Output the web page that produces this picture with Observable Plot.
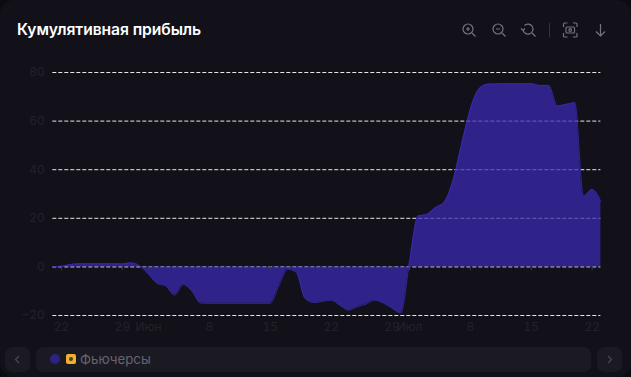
<!DOCTYPE html>
<html><head><meta charset="utf-8">
<script src="https://cdn.jsdelivr.net/npm/d3@7"></script>
<script src="https://cdn.jsdelivr.net/npm/@observablehq/plot@0.6"></script>
<style>
html,body{margin:0;padding:0;background:#0c0b11;width:631px;height:377px;overflow:hidden;font-family:Inter,"Noto Sans",sans-serif}
#card{position:relative;width:631px;height:377px;background:#12111a;border-radius:14px;overflow:hidden}
#title{position:absolute;left:17px;top:20px;color:#fff;font-size:15.7px;font-weight:600;line-height:20px;white-space:nowrap;letter-spacing:-.1px}
#chart{position:absolute;left:0;top:50px}
#tools{position:absolute;left:0;top:0}
.btn,.bar{position:absolute;top:347px;height:25px;background:#1b1a23;border-radius:7px}
.btn svg{position:absolute;left:0;top:0}
#legdot{position:absolute;left:50px;top:354px;width:10px;height:10px;border-radius:50%;background:#2c2285}
#legicon{position:absolute;left:66px;top:354px;width:10px;height:10px;border-radius:2px;background:#f0b02e}
#legicon i{position:absolute;left:3px;top:3px;width:4px;height:4px;border-radius:50%;background:#5a3d10}
#legtext{position:absolute;left:80px;top:350px;color:#66656d;font-size:13.3px;line-height:19px}
</style></head><body>
<div id="card">
<div id="title">Кумулятивная прибыль</div>
<svg id="tools" width="631" height="50" fill="none" stroke="#75747c" stroke-width="1.2">
<circle cx="468" cy="29" r="5"/><path d="M472 33l3.500 3.500M466 29h4M468 27v4"/>
<circle cx="498" cy="29" r="5"/><path d="M502 33l3.500 3.500M496 29h4"/>
<path d="M524.500 25.500a5 5 0 1 1-1.500 4M532 33l3.500 3.500M521 28.500l2 2 2-2"/>
<path d="M549.500 23v14" stroke="#33323a" stroke-width="1"/>
<path d="M563.500 27v-3a1 1 0 0 1 1-1h3M573 23h3a1 1 0 0 1 1 1v3M577 33v3a1 1 0 0 1-1 1h-3M567.500 37h-3a1 1 0 0 1-1-1v-3"/>
<rect x="566" y="27" width="8.500" height="6" rx="1"/><circle cx="570.200" cy="30" r="1.300"/>
<path d="M600.500 24v12M596 31.500l4.500 4.500 4.500-4.500"/>
</svg>
<div id="chart"></div>
<div class="btn" style="left:5px;width:25px"><svg width="25" height="25" fill="none" stroke="#4a4951" stroke-width="1.200"><path d="M14 9l-3.500 3.500 3.500 3.500"/></svg></div>
<div class="bar" style="left:36px;width:555px"></div>
<div class="btn" style="left:597px;width:25px"><svg width="25" height="25" fill="none" stroke="#4a4951" stroke-width="1.200"><path d="M11 9l3.500 3.500-3.500 3.500"/></svg></div>
<div id="legdot"></div><div id="legicon"><i></i></div><div id="legtext">Фьючерсы</div>
</div>
<script>
const seriesName = "Фьючерсы";
const startDate = "2024-05-21";
const values = [
  0.1, 0.3, 1.0, 1.3, 1.3, 1.3, 1.3, 1.3, 1.2, 1.7,
  0.4, -3.0, -6.8, -7.9, -11.6, -7.3, -10.0, -14.9, -15.0, -15.0,
  -15.0, -15.0, -15.0, -15.0, -15.0, -15.0, -7.6, -1.0, -2.3, -13.0,
  -14.7, -14.2, -13.7, -15.8, -17.8, -16.4, -15.3, -13.7, -14.9, -17.0,
  -19.0, 2.0, 21.0, 21.6, 24.4, 26.7, 35.6, 50.7, 65.0, 73.3,
  75.2, 75.3, 75.4, 75.4, 75.4, 75.4, 74.7, 74.7, 66.2, 66.9,
  67.6, 29.1, 31.9, 27.0
];
const yTicks = [-20, 0, 20, 40, 60, 80];
const xTickDates = ["2024-05-22","2024-05-29","2024-06-01","2024-06-08","2024-06-15","2024-06-22","2024-06-29","2024-07-01","2024-07-08","2024-07-15","2024-07-22"];
const xTickLabels = ["22","29","Июн","8","15","22","29","Июл","8","15","22"];

const start = new Date(startDate + "T00:00:00Z");
const data = values.map((v, i) => ({date: d3.utcDay.offset(start, i), value: v, series: seriesName}));
const ticks = xTickDates.map(s => new Date(s + "T00:00:00Z"));
const labelOf = new Map(ticks.map((t, i) => [+t, xTickLabels[i]]));
const curve = "monotone-x";
const tickColor = "#22212a";

const plot = Plot.plot({
  width: 631, height: 290,
  marginLeft: 52.3, marginRight: 30.6, marginTop: 22, marginBottom: 25,
  style: {background: "transparent", fontFamily: "Inter, 'Noto Sans', sans-serif", fontSize: "12px", overflow: "visible"},
  x: {type: "utc", domain: [data[0].date, data[data.length - 1].date]},
  y: {domain: [-20, 80]},
  marks: [
    Plot.ruleY(yTicks, {stroke: "#fff", strokeWidth: 1, strokeDasharray: "4 2", strokeOpacity: 0.9}),
    Plot.areaY(data, {x: "date", y: "value", y1: 0, curve, fill: "#3a2ab4", fillOpacity: 0.72}),
    Plot.lineY(data, {x: "date", y: "value", curve, stroke: "#3a2ab4", strokeWidth: 1, strokeOpacity: 0.8}),
    Plot.ruleX(ticks, {y1: 0, y2: -1.6, stroke: "#3a3942", strokeWidth: 1}),
    Plot.axisY({ticks: yTicks, tickSize: 0, tickPadding: 8, label: null, color: tickColor, fill: tickColor, fontSize: 12}),
    Plot.axisX({ticks, tickSize: 0, tickPadding: 7, label: null, color: tickColor, fill: tickColor, fontSize: 12, tickFormat: d => labelOf.get(+d)})
  ]
});
document.getElementById("chart").appendChild(plot);
</script>
</body></html>
